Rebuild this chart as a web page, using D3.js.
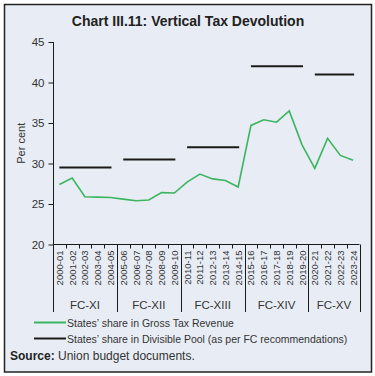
<!DOCTYPE html>
<html>
<head>
<meta charset="utf-8">
<script src="https://cdn.jsdelivr.net/npm/d3@7"></script>
<style>
  body { margin: 0; background: #fff; }
  svg { display: block; font-family: "Liberation Sans", Arial, sans-serif; }
</style>
</head>
<body>
<div id="chart"></div>
<script>
const years = ['2000-01', '2001-02', '2002-03', '2003-04', '2004-05', '2005-06', '2006-07', '2007-08',
  '2008-09', '2009-10', '2010-11', '2011-12', '2012-13', '2013-14', '2014-15', '2015-16',
  '2016-17', '2017-18', '2018-19', '2019-20', '2020-21', '2021-22', '2022-23', '2023-24']
const grossShare = [27.4, 28.2, 25.9, 25.85, 25.8, 25.6, 25.4, 25.5, 26.4, 26.35, 27.7, 28.7,
  28.1, 27.9, 27.1, 34.7, 35.4, 35.1, 36.5, 32.3, 29.4, 33.1, 31.0, 30.4]

const commissions = ['FC-XI', 'FC-XII', 'FC-XIII', 'FC-XIV', 'FC-XV']
const fcStart = ['2000-01', '2005-06', '2010-11', '2015-16', '2020-21']
const fcEnd = ['2004-05', '2009-10', '2014-15', '2019-20', '2023-24']
const divisibleShare = [29.5, 30.5, 32, 42, 41]

const yTicks = [20, 25, 30, 35, 40, 45]

const W = 375, H = 376
const green = '#3bb560', dark = '#1a1a1a', textCol = '#333'

const svg = d3.select('#chart').append('svg')
  .attr('width', W)
  .attr('height', H)

// panel
svg.append('rect')
  .attr('x', 4.5).attr('y', 4.5)
  .attr('width', 367).attr('height', 367.5)
  .attr('fill', '#e8edf5')
  .attr('stroke', '#222')
  .attr('stroke-width', 1.5)

svg.append('text')
  .attr('x', 188).attr('y', 26)
  .attr('text-anchor', 'middle')
  .attr('font-size', 14)
  .attr('font-weight', 'bold')
  .attr('fill', '#222')
  .text('Chart III.11: Vertical Tax Devolution')

const x = d3.scaleBand().domain(years).range([53, 359.5])
const y = d3.scaleLinear().domain([20, 45]).range([244.5, 42])
const bw = x.bandwidth()
const axisBottomY = 312

// y axis
const yAxis = svg.append('g')
  .attr('transform', 'translate(53.5,0)')
  .call(d3.axisLeft(y).tickValues(yTicks).tickSize(5).tickSizeOuter(0).tickPadding(4))
yAxis.select('.domain').remove()
yAxis.selectAll('line').attr('stroke', dark)
yAxis.selectAll('text').attr('font-size', 11.5).attr('fill', textCol).attr('font-family', null)

svg.append('line')
  .attr('x1', 53.5).attr('x2', 53.5)
  .attr('y1', y(45)).attr('y2', axisBottomY)
  .attr('stroke', dark)

svg.append('text')
  .attr('transform', `translate(25,${y(32.5)}) rotate(-90)`)
  .attr('text-anchor', 'middle')
  .attr('font-size', 11)
  .attr('fill', textCol)
  .text('Per cent')

// x axis
svg.append('line')
  .attr('x1', 53).attr('x2', 359.5)
  .attr('y1', y(20)).attr('y2', y(20))
  .attr('stroke', dark)

const bounds = years.slice(1).map(d => x(d)).concat([x(years[years.length - 1]) + bw])
const fcBounds = fcStart.slice(1).map(d => x(d)).concat([x(fcEnd[fcEnd.length - 1]) + bw])

svg.append('g').selectAll('line')
  .data(bounds)
  .join('line')
    .attr('x1', d => Math.round(d) + 0.5).attr('x2', d => Math.round(d) + 0.5)
    .attr('y1', y(20))
    .attr('y2', d => fcBounds.some(b => Math.abs(b - d) < 0.01) ? axisBottomY : y(20) + 4)
    .attr('stroke', dark)

svg.append('g').selectAll('text')
  .data(years)
  .join('text')
    .attr('transform', d => `translate(${x(d) + bw / 2 + 3.5},${y(20) + 6}) rotate(-90)`)
    .attr('text-anchor', 'end')
    .attr('font-size', 9.5)
    .attr('fill', textCol)
    .text(d => d)

svg.append('g').selectAll('text')
  .data(commissions)
  .join('text')
    .attr('x', (d, i) => (x(fcStart[i]) + x(fcEnd[i]) + bw) / 2)
    .attr('y', 309)
    .attr('text-anchor', 'middle')
    .attr('font-size', 11.5)
    .attr('fill', textCol)
    .text(d => d)

// divisible pool segments
svg.append('g').selectAll('line')
  .data(commissions)
  .join('line')
    .attr('x1', (d, i) => x(fcStart[i]) + bw / 2)
    .attr('x2', (d, i) => x(fcEnd[i]) + bw / 2 + 1)
    .attr('y1', (d, i) => y(divisibleShare[i]))
    .attr('y2', (d, i) => y(divisibleShare[i]))
    .attr('stroke', dark)
    .attr('stroke-width', 2)

// gross tax revenue line
const line = d3.line()
  .x((d, i) => x(years[i]) + bw / 2)
  .y(d => y(d))

svg.append('path')
  .datum(grossShare)
  .attr('d', line)
  .attr('fill', 'none')
  .attr('stroke', green)
  .attr('stroke-width', 1.6)

// legend
const legendItems = ['States\u2019 share in Gross Tax Revenue',
  'States\u2019 share in Divisible Pool (as per FC recommendations)']
const legendColors = [green, dark]
const leg = svg.append('g').selectAll('g')
  .data(legendItems)
  .join('g')
    .attr('transform', (d, i) => `translate(0,${322.5 + i * 16})`)
leg.append('line')
  .attr('x1', 34).attr('x2', 66)
  .attr('stroke', (d, i) => legendColors[i])
  .attr('stroke-width', 2)
leg.append('text')
  .attr('x', 67).attr('y', 4)
  .attr('font-size', 10.5)
  .attr('fill', textCol)
  .text(d => d)

const src = svg.append('text')
  .attr('x', 10).attr('y', 360)
  .attr('font-size', 12)
  .attr('fill', textCol)
src.append('tspan').attr('font-weight', 'bold').attr('fill', '#222').text('Source:')
src.append('tspan').text(' Union budget documents.')
</script>
</body>
</html>
